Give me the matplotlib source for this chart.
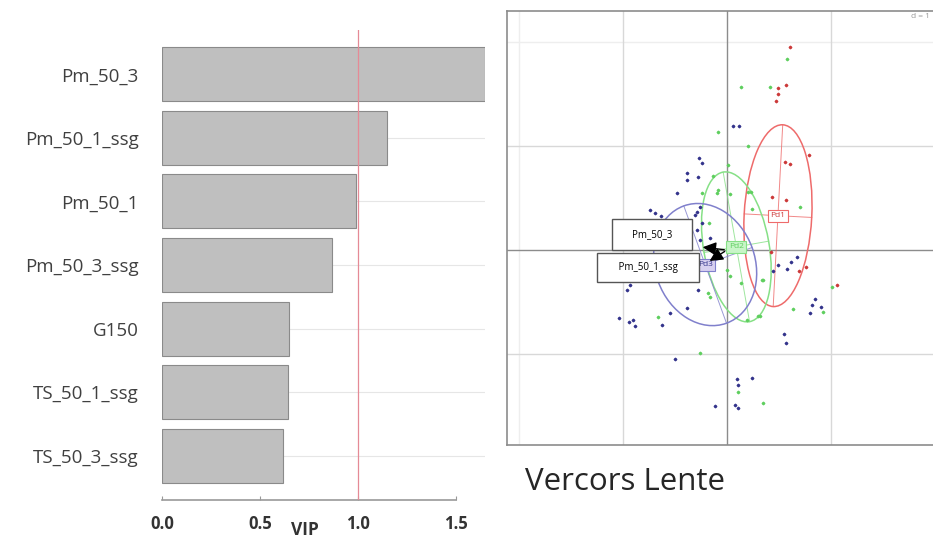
"""VIP bar chart next to a PCA score plot (Vercors Lente)."""

import matplotlib.pyplot as plt
import numpy as np
from matplotlib.patches import Ellipse

plt.rcParams['font.family'] = ['Open Sans', 'DejaVu Sans']

# VIP values
variables = ["Pm_50_3", "Pm_50_1_ssg", "Pm_50_1", "Pm_50_3_ssg", "G150", "TS_50_1_ssg", "TS_50_3_ssg"]
vip = [1.65, 1.15, 0.99, 0.87, 0.65, 0.645, 0.62]
vip_ticks = [0.0, 0.5, 1.0, 1.5]
vip_threshold = 1.0

# PCA scores, one list per group
red_x = [0.61, 0.57, 0.49, 0.49, 0.47, 0.79, 0.56, 0.61, 0.43, 0.57, 0.42, 0.69, 0.76, 1.06]
red_y = [1.95, 1.59, 1.56, 1.50, 1.43, 0.91, 0.85, 0.83, 0.51, 0.48, -0.02, -0.20, -0.16, -0.34]

green_x = [0.58, 0.41, 0.13, -0.09, 0.20, 0.01, -0.13, -0.09, -0.10, -0.24, 0.03, 0.20, 0.23,
           0.24, 0.70, 0.34, 0.00, 0.03, 0.13, 0.35, 0.63, 0.92, 1.01, 0.32, 0.19, 0.30, 0.11,
           0.35, -0.16, -0.18, -0.66, -0.26, -0.17]
green_y = [1.84, 1.57, 1.57, 1.13, 1.00, 0.82, 0.71, 0.58, 0.55, 0.55, 0.54, 0.56, 0.56,
           0.39, 0.41, -0.29, -0.19, -0.25, -0.32, -0.29, -0.57, -0.60, -0.36, -0.63, -0.67, -0.63, -1.37,
           -1.47, -0.45, -0.41, -0.64, -0.99, 0.26]

blue_x = [0.06, 0.12, -0.27, -0.24, -0.38, -0.38, -0.28, -0.48, -0.74, -0.69, -0.63, -0.31, -0.29,
          -0.26, -0.24, -0.29, -0.26, -0.16, -0.93, -0.96, -0.38, -0.55, -0.62, -1.04, -0.94, -0.90,
          -0.88, -0.28, -0.50, -0.12, 0.08, 0.11, 0.10, 0.11, 0.24, 0.67, 0.62, 0.49, 0.58, 0.44,
          0.82, 0.90, 0.80, 0.85, 0.55, 0.57, -0.18, -0.15]
blue_y = [1.19, 1.19, 0.88, 0.84, 0.74, 0.67, 0.70, 0.55, 0.38, 0.36, 0.33, 0.34, 0.37,
          0.41, 0.26, 0.19, 0.10, 0.12, -0.34, -0.38, -0.56, -0.61, -0.72, -0.65, -0.69, -0.67,
          -0.73, -0.38, -1.05, -1.50, -1.49, -1.52, -1.24, -1.30, -1.23, -0.07, -0.12, -0.14, -0.18, -0.20,
          -0.53, -0.55, -0.61, -0.47, -0.81, -0.89, -0.13, -0.18]

# group ellipses (centre, width, height, tilt in degrees)
group_names = ["Pd1", "Pd2", "Pd3"]
group_cx = [0.49, 0.09, -0.21]
group_cy = [0.33, 0.03, -0.14]
group_w = [0.65, 0.63, 0.96]
group_h = [1.75, 1.46, 1.20]
group_angle = [-3, 10, 20]

# variable arrows
arrow_names = ["Pm_50_3", "Pm_50_1_ssg"]
arrow_x = [-0.26, -0.19]
arrow_y = [0.03, -0.12]


fig = plt.figure(figsize=(9.33, 5.41), dpi=100)

# ---- left: VIP bars
ax = fig.add_axes([162 / 933, 1 - 500 / 541, 323 / 933, 470 / 541])
pos = np.arange(len(variables))
ax.barh(pos, vip, height=0.85, color="#bfbfbf", edgecolor="#8a8a8a", linewidth=0.8, zorder=2)
ax.axvline(vip_threshold, color="#e58a96", lw=0.9, zorder=3)
ax.set_xlim(0, 1.65)
ax.set_ylim(6.7, -0.7)
ax.set_yticks(pos)
ax.set_yticklabels(variables, fontsize=13.5, color="#404040")
ax.set_xticks(vip_ticks)
ax.set_xticklabels(["{:.1f}".format(t) for t in vip_ticks], fontsize=12,
                   fontweight="bold", color="#333333")
ax.tick_params(axis="y", length=0, pad=17)
ax.tick_params(axis="x", direction="in", length=3, color="#999999", pad=11)
ax.yaxis.grid(True, color="#e6e6e6", lw=0.8, zorder=0)
for s in ["top", "right", "left"]:
    ax.spines[s].set_visible(False)
ax.spines["bottom"].set_bounds(0, 1.5)
ax.spines["bottom"].set_color("#999999")
ax.spines["bottom"].set_linewidth(1.2)
fig.text(305 / 933, 1 - 530 / 541, "VIP", fontsize=12.5, fontweight="bold",
         color="#333333", ha="center", va="center")

# ---- right: score plot
ax2 = fig.add_axes([507 / 933, 1 - 445 / 541, 438 / 933, 434 / 541])
ax2.set_xlim(-2.115, 2.096)
ax2.set_ylim(-1.875, 2.298)
ax2.set_xticks([])
ax2.set_yticks([])
for v in [-2, 2]:
    ax2.axvline(v, color="#eeeeee", lw=1.0, zorder=0)
    ax2.axhline(v, color="#eeeeee", lw=1.0, zorder=0)
for v in [-1, 1]:
    ax2.axvline(v, color="#d8d8d8", lw=1.0, zorder=0)
    ax2.axhline(v, color="#d8d8d8", lw=1.0, zorder=0)
ax2.axhline(0, color="#8c8c8c", lw=1.0, zorder=1)
ax2.axvline(0, color="#8c8c8c", lw=1.0, zorder=1)
for s in ax2.spines.values():
    s.set_color("#8c8c8c")
    s.set_linewidth(1.2)

line_cols = ["#ee6b6b", "#86e086", "#8080cc"]
point_cols = ["#cc3a3a", "#5fcf5f", "#34348c"]
label_fill = ["white", "#c8f5c8", "#d8d0f0"]
groups = [(red_x, red_y), (green_x, green_y), (blue_x, blue_y)]

for i, (gx, gy) in enumerate(groups):
    ax2.scatter(gx, gy, s=6, color=point_cols[i], zorder=4, linewidths=0)
    ax2.scatter(gx, gy, s=12, marker="+", color=point_cols[i], zorder=4, linewidths=0.5, alpha=0.5)

for i in range(len(group_names)):
    ell = Ellipse((group_cx[i], group_cy[i]), group_w[i], group_h[i], angle=group_angle[i],
                  fill=False, edgecolor=line_cols[i], lw=1.1, zorder=3)
    ax2.add_patch(ell)
    # ellipse axes
    a = np.radians(group_angle[i])
    for half, ang in [(group_h[i] / 2, a + np.pi / 2), (group_w[i] / 2, a)]:
        dx, dy = half * np.cos(ang), half * np.sin(ang)
        ax2.plot([group_cx[i] - dx, group_cx[i] + dx], [group_cy[i] - dy, group_cy[i] + dy],
                 color=line_cols[i], lw=0.7, alpha=0.8, zorder=3)
    ax2.text(group_cx[i], group_cy[i], group_names[i], fontsize=6, color=point_cols[i],
             ha="center", va="center", zorder=5,
             bbox=dict(boxstyle="square,pad=0.3", fc=label_fill[i], ec=line_cols[i], lw=0.8))

for i in range(len(arrow_names)):
    ax2.annotate("", xy=(arrow_x[i], arrow_y[i]), xytext=(0, 0),
                 arrowprops=dict(arrowstyle="-|>,head_length=0.8,head_width=0.4",
                                 color="black", lw=1.0), zorder=6)

ax2.annotate("    " + arrow_names[0] + "    ", xy=(arrow_x[0], arrow_y[0]), xytext=(-0.72, 0.15),
             fontsize=7, ha="center", va="center", zorder=7,
             bbox=dict(boxstyle="square,pad=1.0", fc="white", ec="#555555", lw=1.0))
ax2.annotate("     " + arrow_names[1] + "     ", xy=(arrow_x[1], arrow_y[1]), xytext=(-0.76, -0.17),
             fontsize=7, ha="center", va="center", zorder=7,
             bbox=dict(boxstyle="square,pad=0.9", fc="white", ec="#555555", lw=1.0))

fig.text(930 / 933, 1 - 17 / 541, "d = 1", fontsize=6, color="#999999", ha="right", va="center")
fig.text(525 / 933, 1 - 490 / 541, "Vercors Lente", fontsize=22.5, color="#262626",
         ha="left", va="baseline")

fig.savefig("out.png", dpi=100)
